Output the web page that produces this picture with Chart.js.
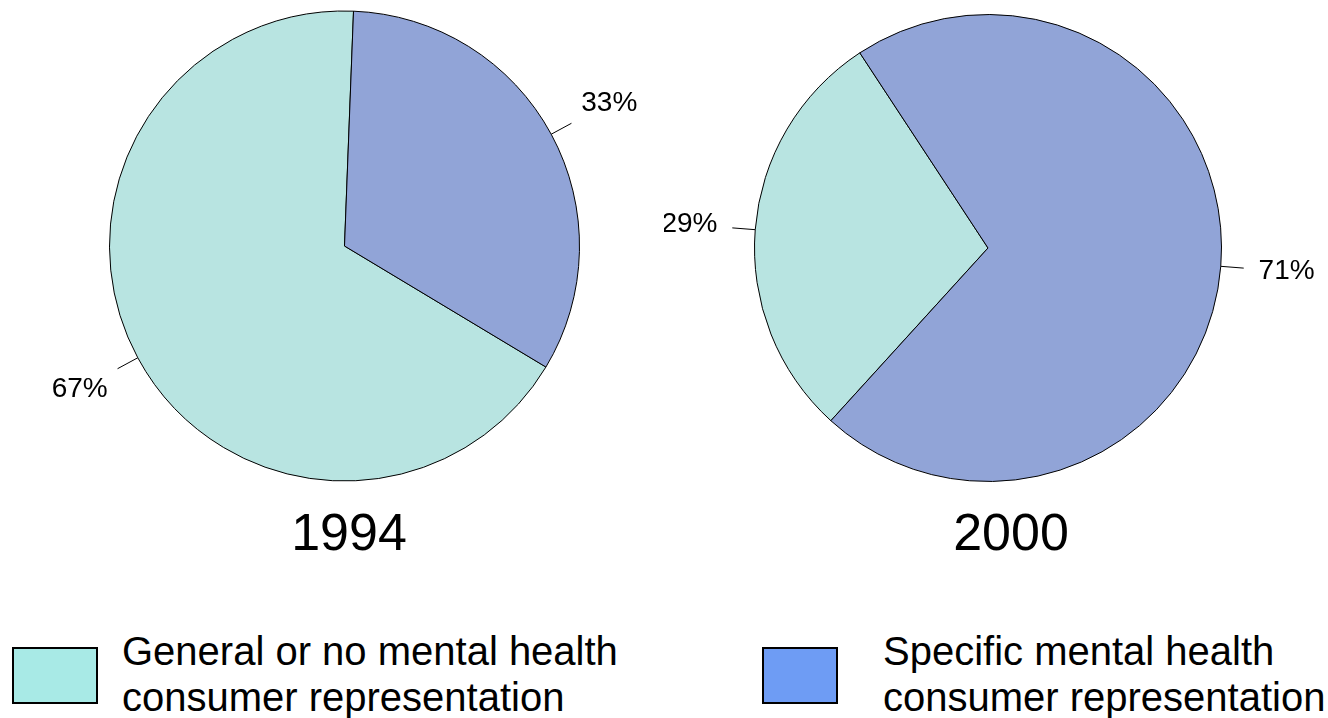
<!DOCTYPE html>
<html>
<head>
<meta charset="utf-8">
<script src="https://cdn.jsdelivr.net/npm/chart.js@4.4.1/dist/chart.umd.min.js"></script>
<style>
  html, body { margin: 0; padding: 0; background: #ffffff; }
  body { width: 1328px; height: 718px; position: relative; overflow: hidden; font-family: "Liberation Sans", Arial, sans-serif; color: #000; }
  .wrap { position: absolute; top: 0; width: 664px; height: 500px; }
  .year { position: absolute; top: 502px; font-size: 52px; line-height: 60px; text-align: center; width: 300px; }
  .sw { position: absolute; top: 647px; height: 53px; border: 2px solid #000; }
  .lt { position: absolute; top: 628px; font-size: 40px; line-height: 46px; white-space: nowrap; }
</style>
</head>
<body>
<div class="wrap" style="left:0px"><canvas id="c1" width="664" height="500"></canvas></div>
<div class="wrap" style="left:664px"><canvas id="c2" width="664" height="500"></canvas></div>
<div class="year" id="y1" style="left:199px"></div>
<div class="year" id="y2" style="left:861px"></div>
<div class="sw" id="s1" style="left:12px; width:82px"></div>
<div class="lt" id="t1" style="left:122px"></div>
<div class="sw" id="s2" style="left:762px; width:72px"></div>
<div class="lt" id="t2" style="left:883px"></div>
<script>
// ---- data ----
const categories = ['General or no mental health consumer representation', 'Specific mental health consumer representation'];
const legendLines = [['General or no mental health', 'consumer representation'], ['Specific mental health', 'consumer representation']];
const years = ['1994', '2000'];
const values1994 = [67, 33];
const values2000 = [29, 71];
const labels1994 = ['67%', '33%'];
const labels2000 = ['29%', '71%'];

// ---- styles ----
const pieColors = ['#B8E4E1', '#91A4D7'];
const swatchColors = ['#A8EAE6', '#6E9CF4'];

const leaderPlugin = {
  id: 'leaders',
  afterDatasetsDraw(chart) {
    const ctx = chart.ctx;
    const meta = chart.getDatasetMeta(0);
    const lbls = chart.options.plugins.leaders.labels;
    ctx.save();
    ctx.strokeStyle = '#000';
    ctx.lineWidth = 1;
    ctx.fillStyle = '#000';
    ctx.font = '28px "Liberation Sans", Arial, sans-serif';
    ctx.textAlign = 'center';
    ctx.textBaseline = 'middle';
    meta.data.forEach((arc, i) => {
      const p = arc.getProps(['x', 'y', 'startAngle', 'endAngle', 'outerRadius'], true);
      const mid = (p.startAngle + p.endAngle) / 2;
      const c = Math.cos(mid), s = Math.sin(mid);
      const r = p.outerRadius;
      ctx.beginPath();
      ctx.moveTo(p.x + c * r, p.y + s * r);
      ctx.lineTo(p.x + c * (r + 23), p.y + s * (r + 23));
      ctx.stroke();
      ctx.fillText(lbls[i], p.x + c * (r + 66), p.y + s * (r + 66));
    });
    ctx.restore();
  }
};

function makePie(id, values, labels, rotation, radius, padding) {
  return new Chart(document.getElementById(id), {
    type: 'pie',
    data: {
      labels: categories,
      datasets: [{
        data: values,
        backgroundColor: pieColors,
        borderColor: '#000000',
        borderWidth: 1,
        hoverOffset: 0
      }]
    },
    options: {
      responsive: false,
      animation: false,
      events: [],
      rotation: rotation,
      radius: radius,
      layout: { padding: padding },
      plugins: {
        legend: { display: false },
        tooltip: { enabled: false },
        leaders: { labels: labels }
      }
    },
    plugins: [leaderPlugin]
  });
}

makePie('c1', values1994, labels1994, 121, 235, { left: 110.5, right: 85.5, top: 12, bottom: 20 });
makePie('c2', values2000, labels2000, 222.3, 233.5, { left: 93, right: 109, top: 17, bottom: 21 });

document.getElementById('y1').textContent = years[0];
document.getElementById('y2').textContent = years[1];
document.getElementById('s1').style.background = swatchColors[0];
document.getElementById('s2').style.background = swatchColors[1];
document.getElementById('t1').innerHTML = legendLines[0].join('<br>');
document.getElementById('t2').innerHTML = legendLines[1].join('<br>');
</script>
</body>
</html>
